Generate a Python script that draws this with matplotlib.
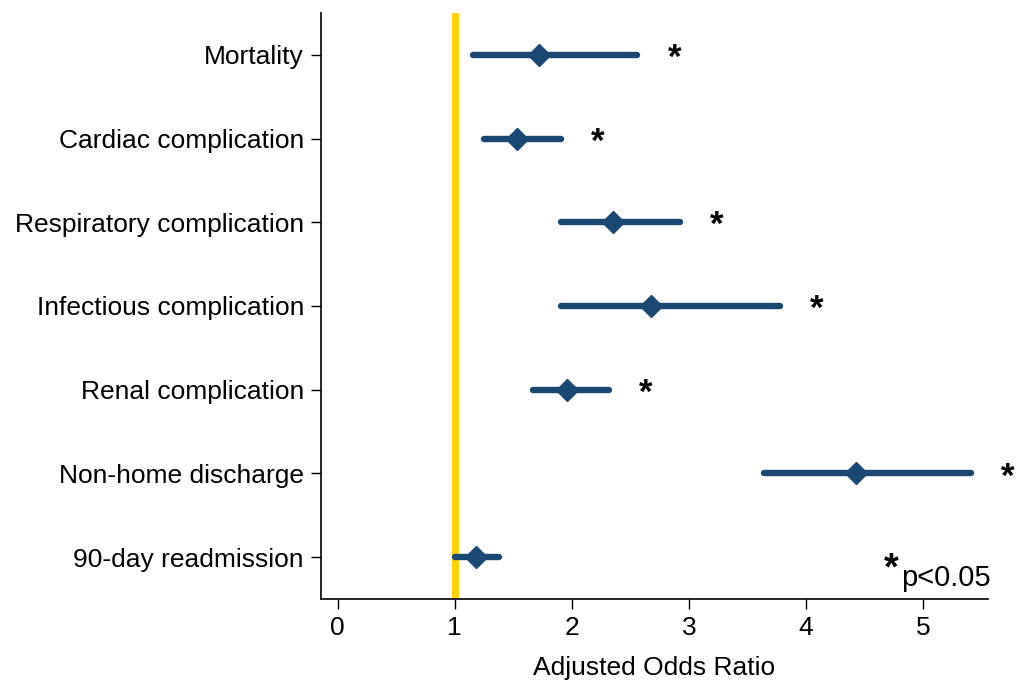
import matplotlib.pyplot as plt
import numpy as np

plt.rcParams['font.family'] = ['Liberation Sans', 'DejaVu Sans']

outcomes = ['Mortality', 'Cardiac complication', 'Respiratory complication',
            'Infectious complication', 'Renal complication',
            'Non-home discharge', '90-day readmission']
odds = [1.72, 1.53, 2.35, 2.68, 1.96, 4.43, 1.18]
ci_low = [1.16, 1.25, 1.91, 1.91, 1.67, 3.64, 1.00]
ci_high = [2.56, 1.91, 2.92, 3.78, 2.32, 5.41, 1.38]
signif = [True, True, True, True, True, True, False]

navy = '#1a4873'
ypos = np.arange(len(outcomes))[::-1] + 1

fig = plt.figure(figsize=(10.21, 6.81), dpi=100)
ax = fig.add_axes([0.314, 0.1204, 0.654, 0.8606])

ax.axvline(1, color='#FFD200', lw=5, zorder=1)
ax.hlines(ypos, ci_low, ci_high, color=navy, lw=4.6, capstyle='round', zorder=2)
ax.plot(odds, ypos, 'D', color=navy, ms=11, zorder=3)

# significance stars right of each CI
for y, hi, s in zip(ypos, ci_high, signif):
    if s:
        ax.annotate('*', xy=(hi, y), xytext=(26.5, -2.5), textcoords='offset points',
                    ha='center', va='center', fontsize=25, fontweight='bold',
                    annotation_clip=False)

ax.text(0.855, 0.02, '*', transform=ax.transAxes, fontsize=27, fontweight='bold',
        ha='center', va='bottom')
ax.text(1.003, 0.012, 'p<0.05', transform=ax.transAxes, fontsize=21,
        ha='right', va='bottom')

ax.set_xlim(-0.145, 5.556)
ax.set_ylim(0.5, 7.5)
ax.set_xticks([0, 1, 2, 3, 4, 5])
ax.set_yticks(ypos)
ax.set_yticklabels(outcomes)
ax.tick_params(axis='both', labelsize=19, length=7, width=1, pad=5)
ax.set_xlabel('Adjusted Odds Ratio', fontsize=19, labelpad=12)

for side in ['top', 'right']:
    ax.spines[side].set_visible(False)
for side in ['left', 'bottom']:
    ax.spines[side].set_linewidth(1.2)

fig.savefig('out.png', dpi=100)
